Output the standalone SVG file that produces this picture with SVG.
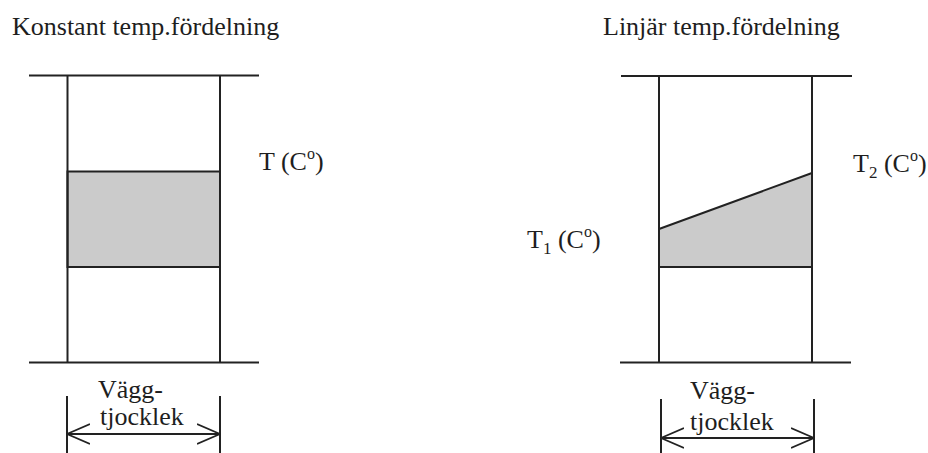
<svg xmlns="http://www.w3.org/2000/svg" width="928" height="453" viewBox="0 0 928 453">
<style>
text{font-family:"Liberation Serif","Times New Roman",serif;font-size:26px;fill:#1e1e1e}
.ln{stroke:#222;stroke-width:2;fill:none;stroke-linecap:butt}
.fill{fill:#cbcbcb;stroke:#222;stroke-width:2}
.sup{font-size:16px}
</style>
<defs>
<marker id="ah" viewBox="0 0 24 22" refX="23" refY="11" markerWidth="24" markerHeight="22" markerUnits="userSpaceOnUse" orient="auto-start-reverse">
<path d="M0,1 L23,11 L0,21" fill="none" stroke="#222" stroke-width="1.8"/>
</marker>
</defs>
<rect width="928" height="453" fill="#fff"/>

<g id="left-panel">
<text x="12" y="35">Konstant temp.fördelning</text>
<rect class="fill" x="67.5" y="171.5" width="152.5" height="95.5"/>
<line class="ln" x1="29" y1="75.5" x2="259" y2="75.5"/>
<line class="ln" x1="29" y1="362.5" x2="259" y2="362.5"/>
<line class="ln" x1="67.5" y1="75.5" x2="67.5" y2="362.5"/>
<line class="ln" x1="220" y1="75.5" x2="220" y2="362.5"/>
<text x="259" y="170">T (C<tspan class="sup" dy="-11">o</tspan><tspan dy="11">)</tspan></text>
</g>

<g id="left-dimension">
<line class="ln" x1="67" y1="396" x2="67" y2="453"/>
<line class="ln" x1="220" y1="396" x2="220" y2="453"/>
<line class="ln" x1="67" y1="434" x2="220" y2="434" marker-start="url(#ah)" marker-end="url(#ah)"/>
<text x="98" y="398">Vägg-</text>
<text x="100" y="425">tjocklek</text>
</g>

<g id="right-panel">
<text x="603" y="35">Linjär temp.fördelning</text>
<polygon class="fill" points="659,229 812,173 812,267 659,267"/>
<line class="ln" x1="621" y1="76" x2="852" y2="76"/>
<line class="ln" x1="620" y1="362.5" x2="851" y2="362.5"/>
<line class="ln" x1="659" y1="76" x2="659" y2="362.5"/>
<line class="ln" x1="812" y1="76" x2="812" y2="362.5"/>
<text x="527" y="248">T<tspan font-size="17" dy="6">1</tspan><tspan dy="-6"> (C</tspan><tspan class="sup" dy="-11">o</tspan><tspan dy="11">)</tspan></text>
<text x="853" y="172">T<tspan font-size="17" dy="6">2</tspan><tspan dy="-6"> (C</tspan><tspan class="sup" dy="-11">o</tspan><tspan dy="11">)</tspan></text>
</g>

<g id="right-dimension">
<line class="ln" x1="661" y1="399" x2="661" y2="453"/>
<line class="ln" x1="814" y1="399" x2="814" y2="453"/>
<line class="ln" x1="661" y1="438" x2="814" y2="438" marker-start="url(#ah)" marker-end="url(#ah)"/>
<text x="690" y="399">Vägg-</text>
<text x="690" y="430">tjocklek</text>
</g>
</svg>
